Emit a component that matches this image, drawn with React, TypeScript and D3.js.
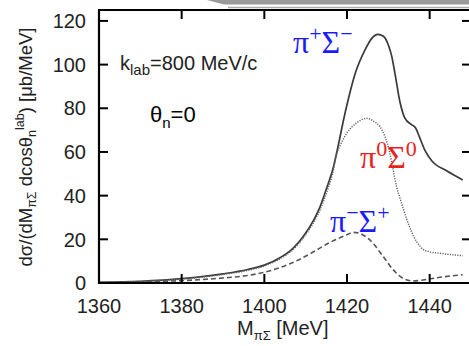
import React from "react";
import * as d3 from "d3";

const W = 469;
const H = 346;

const xTicks = [1360, 1380, 1400, 1420, 1440];
const yTicks = [0, 20, 40, 60, 80, 100, 120];
const xDomain = [1360, 1450];
const yDomain = [0, 125];

// pi+ Sigma-  (solid)
const piPlusSigmaMinus: [number, number][] = [
  [1360, 0.3], [1370, 0.8], [1380, 2.0], [1390, 4.2], [1396, 6.2], [1400, 8.2],
  [1404, 11.8], [1407, 16], [1409.5, 21.5], [1412, 29], [1413.5, 35], [1415, 43],
  [1416.7, 53], [1418, 64], [1419.2, 75], [1420.3, 84], [1422, 96], [1424.3, 106.5],
  [1426, 112], [1427.5, 113.8], [1428.8, 113], [1430, 109], [1430.8, 104],
  [1431.6, 96], [1432.8, 83], [1434, 75.5], [1435.6, 72.5], [1436.6, 71],
  [1437.5, 67], [1438.8, 61], [1440.5, 56], [1444, 51.5], [1448, 47.2],
];

// pi0 Sigma0 (dotted)
const piZeroSigmaZero: [number, number][] = [
  [1360, 0.3], [1370, 0.7], [1380, 1.8], [1390, 3.9], [1396, 5.8], [1400, 7.8],
  [1404, 11.3], [1407, 15.4], [1409.5, 20.8], [1412, 28], [1413.5, 33.5], [1415, 41],
  [1416.5, 50], [1417.5, 59], [1418.5, 63.5], [1419.9, 68.5], [1422.5, 73.5],
  [1424.7, 75.4], [1426.5, 74], [1428, 71.5], [1429.2, 67], [1430.3, 60],
  [1431.2, 51.5], [1432, 44], [1432.8, 39], [1434.4, 29.5], [1435.5, 24],
  [1436.8, 19], [1437.6, 17], [1438.3, 15.5], [1440, 14.3], [1442.5, 13.6], [1448, 12.5],
];

// pi- Sigma+ (dashed)
const piMinusSigmaPlus: [number, number][] = [
  [1360, 0.2], [1370, 0.5], [1380, 1.1], [1390, 2.3], [1396.5, 3.6], [1401.4, 5.6],
  [1406.2, 8.8], [1411, 13.3], [1415.9, 18.6], [1419.9, 22], [1421.5, 23.2],
  [1423.9, 22], [1426.3, 18.2], [1428.8, 12], [1431.2, 6], [1433.6, 2.1],
  [1436, 0.9], [1438.4, 1.4], [1441.7, 2.4], [1448, 3.8],
];

export default function App() {
  const x = d3.scaleLinear().domain(xDomain).range([99, 471]);
  const y = d3.scaleLinear().domain(yDomain).range([283, 10]);
  const line = d3
    .line<[number, number]>()
    .x((d) => x(d[0]))
    .y((d) => y(d[1]))
    .curve(d3.curveMonotoneX);

  const sans = "'Liberation Sans', Arial, sans-serif";
  const serif = "'Liberation Serif', 'Times New Roman', serif";
  const tickColor = "#222";

  return (
    <svg
      width={W}
      height={H}
      style={{ position: "absolute", left: 0, top: 0, background: "#fff" }}
    >
      {/* decorative top band */}
      <path d="M207,0 L469,0 L469,4.5 L224,4.5 Z" fill="#9a9a9a" />
      <line x1={228} x2={469} y1={7.5} y2={7.5} stroke="#aaa" strokeWidth={1.5} />

      {/* curves */}
      <path d={line(piPlusSigmaMinus) || ""} fill="none" stroke="#3a3a3a" strokeWidth={1.7} />
      <path
        d={line(piZeroSigmaZero) || ""}
        fill="none"
        stroke="#666"
        strokeWidth={1.5}
        strokeDasharray="1.2,1.3"
      />
      <path
        d={line(piMinusSigmaPlus) || ""}
        fill="none"
        stroke="#555"
        strokeWidth={1.6}
        strokeDasharray="5,3"
      />

      {/* frame */}
      <line x1={99} x2={99} y1={y(yDomain[1])} y2={y(0) + 1} stroke="#000" strokeWidth={2.2} />
      <line x1={98} x2={471} y1={y(0)} y2={y(0)} stroke="#000" strokeWidth={2.2} />
      <line x1={98} x2={471} y1={y(yDomain[1])} y2={y(yDomain[1])} stroke="#000" strokeWidth={2} />
      <line x1={471} x2={471} y1={y(yDomain[1])} y2={y(0)} stroke="#000" strokeWidth={2} />

      {/* x ticks */}
      {xTicks.map((t) => (
        <g key={"x" + t}>
          <line x1={x(t)} x2={x(t)} y1={y(0)} y2={y(0) - 9} stroke="#000" strokeWidth={2} />
          <line
            x1={x(t)}
            x2={x(t)}
            y1={y(yDomain[1])}
            y2={y(yDomain[1]) + 9}
            stroke="#000"
            strokeWidth={2}
          />
          <text
            x={x(t)}
            y={313}
            textAnchor="middle"
            fontFamily={sans}
            fontSize={20}
            fill={tickColor}
          >
            {t}
          </text>
        </g>
      ))}

      {/* y ticks */}
      {yTicks.map((t) => (
        <g key={"y" + t}>
          <line x1={99} x2={108} y1={y(t)} y2={y(t)} stroke="#000" strokeWidth={2} />
          <line x1={462} x2={471} y1={y(t)} y2={y(t)} stroke="#000" strokeWidth={2} />
          <text
            x={86}
            y={y(t)}
            dy="0.36em"
            textAnchor="end"
            fontFamily={sans}
            fontSize={20}
            fill={tickColor}
          >
            {t}
          </text>
        </g>
      ))}

      {/* axis titles */}
      <text x={237} y={335} fontFamily={sans} fontSize={20} fill={tickColor}>
        M
        <tspan fontSize={13} dy={5}>
          πΣ
        </tspan>
        <tspan dy={-5}> [MeV]</tspan>
      </text>
      <text
        transform={`translate(32,147) rotate(-90)`}
        textAnchor="middle"
        fontFamily={sans}
        fontSize={18.5}
        fill={tickColor}
      >
        dσ/(dM
        <tspan fontSize={12.5} dy={4}>
          πΣ
        </tspan>
        <tspan dy={-4}> dcosθ</tspan>
        <tspan fontSize={12.5} dy={4}>
          n
        </tspan>
        <tspan fontSize={12.5} dy={-12}>
          lab
        </tspan>
        <tspan dy={8}>) [μb/MeV]</tspan>
      </text>

      {/* annotations */}
      <text x={120} y={70} fontFamily={sans} fontSize={20} fill="#222">
        k
        <tspan fontSize={15} dy={5}>
          lab
        </tspan>
        <tspan dy={-5}>=800 MeV/c</tspan>
      </text>
      <text x={150} y={122} fontFamily={sans} fontSize={22} fill="#000">
        θ
        <tspan fontSize={15} dy={6}>
          n
        </tspan>
        <tspan dy={-6}>=0</tspan>
      </text>

      <text x={293} y={53} fontFamily={serif} fontSize={32} fill="#1a1aff">
        π
        <tspan fontSize={22} dy={-12}>
          +
        </tspan>
        <tspan dy={12}>Σ</tspan>
        <tspan fontSize={22} dy={-12}>
          −
        </tspan>
      </text>
      <text x={360} y={168} fontFamily={serif} fontSize={32} fill="#e8231e">
        π
        <tspan fontSize={22} dy={-12}>
          0
        </tspan>
        <tspan dy={12}>Σ</tspan>
        <tspan fontSize={22} dy={-12}>
          0
        </tspan>
      </text>
      <text x={330} y={232} fontFamily={serif} fontSize={32} fill="#1a1aff">
        π
        <tspan fontSize={22} dy={-12}>
          −
        </tspan>
        <tspan dy={12}>Σ</tspan>
        <tspan fontSize={22} dy={-12}>
          +
        </tspan>
      </text>
    </svg>
  );
}
